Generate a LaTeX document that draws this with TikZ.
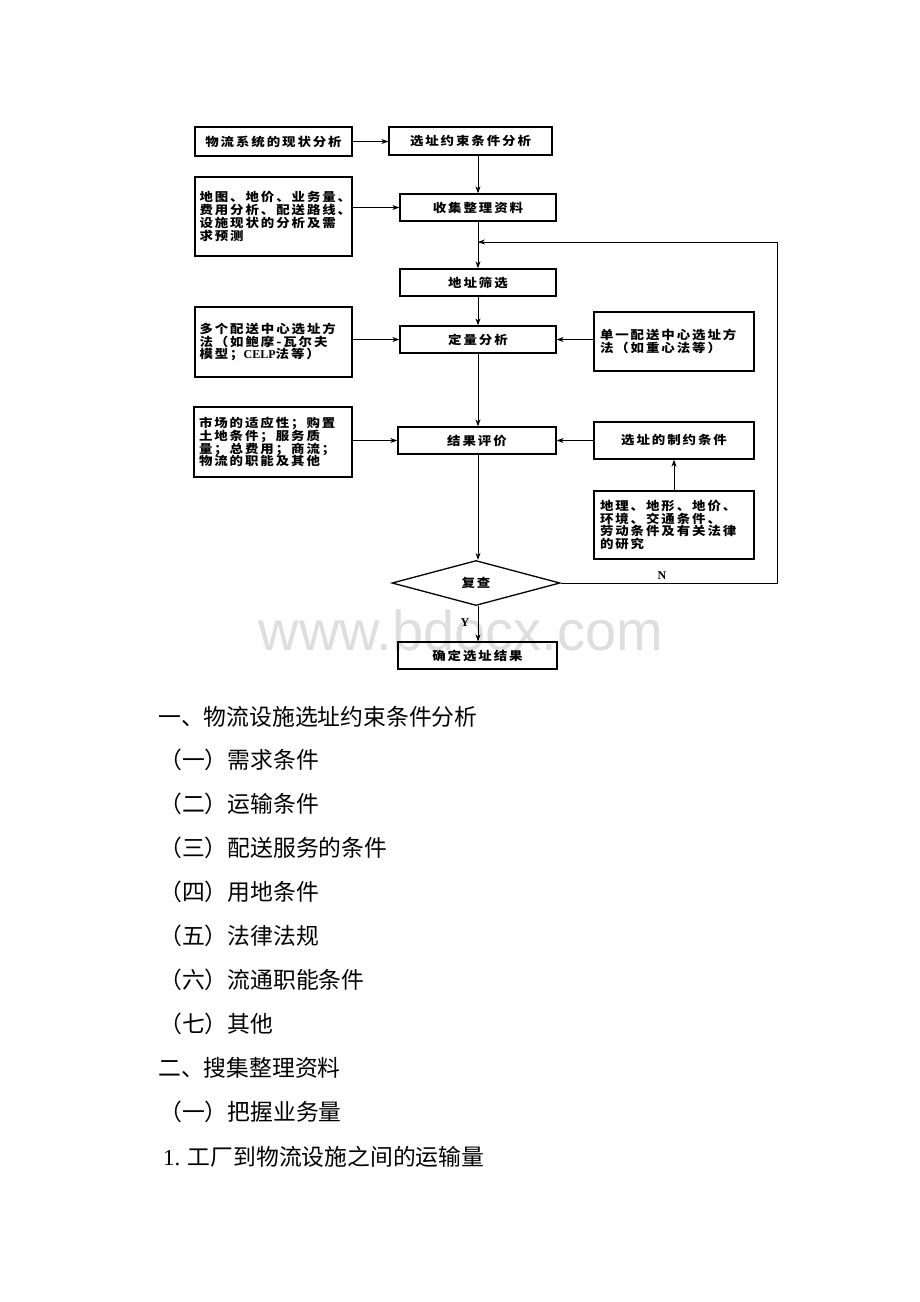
\documentclass[tikz,border=0pt]{standalone}
\usepackage{fontspec}
\newfontfamily\cjk{Noto Sans CJK SC}
\newfontfamily\cjkbox[FakeStretch=1.12,LetterSpace=16]{Noto Sans CJK SC}
\newfontfamily\lat{Liberation Serif}
\newfontfamily\wm{Liberation Sans}
\usetikzlibrary{shapes.geometric,arrows.meta}
\begin{document}
\begin{tikzpicture}[x=1pt,y=-1pt,
  box/.style={draw,line width=1.3pt,inner sep=0pt,
    font=\cjkbox\bfseries\fontsize{12}{12.8}\selectfont},
  tbox/.style={box,text width=148pt,align=left},
  arr/.style={line width=1pt,-{Stealth[length=7pt,width=5pt]}},
  body/.style={inner sep=0pt,anchor=west,font=\cjk\fontsize{22.8}{27}\selectfont},
  lab/.style={inner sep=0pt,font=\lat\bfseries\fontsize{12}{12}\selectfont}]
\useasboundingbox[fill=white] (0,0) rectangle (920,1302);
% watermark
\node[inner sep=0pt,anchor=base,text=black!13,font=\wm\fontsize{56}{56}\selectfont] (wm) at (461,650) {www.bdocx.com};
% boxes
\node[box,minimum width=157pt,minimum height=29pt] (A) at (273.5,141.5) {物流系统的现状分析};
\node[box,minimum width=163pt,minimum height=28pt] (B) at (470.5,141) {选址约束条件分析};
\node[tbox,minimum width=157pt,minimum height=79pt] (C) at (273.5,216.5) {地图、地价、业务量、\\费用分析、配送路线、\\设施现状的分析及需\\求预测};
\node[box,minimum width=156pt,minimum height=27pt] (D) at (478,207.5) {收集整理资料};
\node[box,minimum width=156pt,minimum height=27pt] (E) at (478,282.5) {地址筛选};
\node[tbox,minimum width=157pt,minimum height=70pt] (F) at (273.5,342) {多个配送中心选址方\\法（如鲍摩-瓦尔夫\\模型；{\lat\bfseries CELP}法等）};
\node[box,minimum width=156pt,minimum height=27pt] (G) at (478,339.5) {定量分析};
\node[tbox,minimum width=160pt,minimum height=59pt] (H) at (674,341.5) {单一配送中心选址方\\法（如重心法等）};
\node[tbox,minimum width=158pt,minimum height=70pt] (I) at (273,442) {市场的适应性；购置\\土地条件；服务质\\量；总费用；商流；\\物流的职能及其他};
\node[box,minimum width=158pt,minimum height=27pt] (J) at (477,440.5) {结果评价};
\node[box,minimum width=160pt,minimum height=37pt] (K) at (674,440.5) {选址的制约条件};
\node[tbox,minimum width=160pt,minimum height=68pt] (L) at (674,525) {地理、地形、地价、\\环境、交通条件、\\劳动条件及有关法律\\的研究};
\node[box,diamond,aspect=3.73,minimum width=168pt,minimum height=45pt] (Q) at (476,583) {复查};
\node[box,minimum width=159pt,minimum height=27pt] (M) at (477.5,655.5) {确定选址结果};
% coordinates
\coordinate (fbR) at (777,583);
\coordinate (fbT) at (777,242);
\coordinate (fbJ) at (478,242);
% connectors
\draw[arr] (A.east) -- (B.west |- A.east);
\draw[arr] (B.south -| fbJ) -- (D.north -| fbJ);
\draw[arr] (C.east |- D.west) -- (D.west);
\draw[arr] (D.south) -- (E.north);
\draw[line width=1pt] (Q.east) -- (fbR) -- (fbT) -- (fbJ);
\draw[arr] (fbT) -- (fbJ);
\draw[arr] (E.south) -- (G.north);
\draw[arr] (F.east |- G.west) -- (G.west);
\draw[arr] (H.west |- G.east) -- (G.east);
\draw[arr] (G.south) -- (J.north -| G.south);
\draw[arr] (I.east |- J.west) -- (J.west);
\draw[arr] (K.west |- J.east) -- (J.east);
\draw[arr] (L.north) -- (K.south);
\draw[arr] (J.south -| fbJ) -- (Q.north -| fbJ);
\draw[arr] (Q.south -| fbJ) -- (M.north -| fbJ);
\node[lab] (N) at (662,576) {N};
\node[lab] (Y) at (465,623) {Y};
% body text
\node[body] (t1) at (158,717) {一、物流设施选址约束条件分析};
\node[body] (t2) at (159,760) {（一）需求条件};
\node[body] (t3) at (159,804) {（二）运输条件};
\node[body] (t4) at (159,848) {（三）配送服务的条件};
\node[body] (t5) at (159,892) {（四）用地条件};
\node[body] (t6) at (159,936) {（五）法律法规};
\node[body] (t7) at (159,980) {（六）流通职能条件};
\node[body] (t8) at (159,1024) {（七）其他};
\node[body] (t9) at (158,1068) {二、搜集整理资料};
\node[body] (t10) at (159,1112) {（一）把握业务量};
\node[body] (t11) at (163,1157) {{\lat 1. }工厂到物流设施之间的运输量};
\end{tikzpicture}
\end{document}
